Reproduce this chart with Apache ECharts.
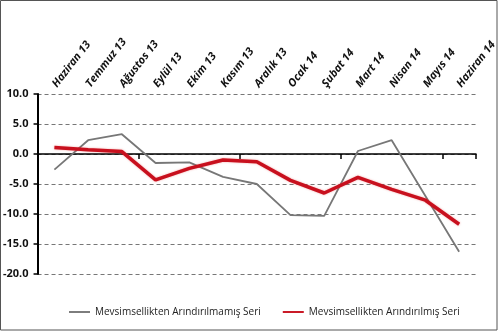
<!DOCTYPE html>
<html><head><meta charset="utf-8">
<script src="https://cdn.jsdelivr.net/npm/echarts@6/dist/echarts.min.js"></script>
<style>html,body{margin:0;padding:0;background:#fff}#c{width:500px;height:333px}</style>
</head><body><div id="c"></div>
<script>
const categories = ['Haziran 13','Temmuz 13','Ağustos 13','Eylül 13','Ekim 13','Kasım 13','Aralık 13','Ocak 14','Şubat 14','Mart 14','Nisan 14','Mayıs 14','Haziran 14'];
const unadjusted = [-2.6, 2.3, 3.3, -1.5, -1.4, -3.8, -5.0, -10.2, -10.3, 0.5, 2.3, -7.0, -16.3];
const adjusted = [1.1, 0.7, 0.4, -4.3, -2.4, -1.0, -1.3, -4.4, -6.5, -3.9, -5.9, -7.7, -11.7];
const seriesNames = ['Mevsimsellikten Arındırılmamış Seri','Mevsimsellikten Arındırılmış Seri'];
const yTicks = {min: -20, max: 10, step: 5};

const chart = echarts.init(document.getElementById('c'), null, {renderer: 'canvas'});
const font = 'Open Sans, DejaVu Sans, sans-serif';
chart.setOption({
  animation: false,
  grid: {left: 37, right: 24, top: 94, bottom: 59},
  graphic: [{type: 'rect', shape: {x: 0.5, y: 0.5, width: 496.5, height: 329.5}, style: {fill: 'none', stroke: '#555', lineWidth: 1}}],
  legend: {
    data: seriesNames, left: 64, top: 302, width: 430, itemWidth: 21, itemHeight: 10, itemGap: 22,
    icon: 'path://M0,4L22,4L22,6L0,6Z',
    textStyle: {fontFamily: font, fontSize: 10, color: '#222', fontWeight: 'normal'}
  },
  xAxis: [
    {type: 'category', data: categories, boundaryGap: true, position: 'bottom',
     axisLine: {onZero: true, lineStyle: {color: '#000', width: 1.5}},
     axisTick: {show: true, length: 5, lineStyle: {color: '#000', width: 1.5}},
     axisLabel: {show: false}, splitLine: {show: false}},
    {type: 'category', data: categories, boundaryGap: true, position: 'top',
     axisLine: {show: false, onZero: false}, axisTick: {show: false},
     axisLabel: {rotate: -52, margin: 8, fontFamily: font, fontSize: 11, fontStyle: 'italic', fontWeight: 'bold', color: '#111', interval: 0}}
  ],
  yAxis: {
    type: 'value', min: yTicks.min, max: yTicks.max, interval: yTicks.step,
    axisLine: {show: true, onZero: false, lineStyle: {color: '#000', width: 2}},
    axisTick: {show: true, length: 4, lineStyle: {color: '#000', width: 1.5}},
    axisLabel: {formatter: v => v.toFixed(1), margin: 9, fontFamily: font, fontSize: 11, fontWeight: 'bold', color: '#111'},
    splitLine: {show: true, lineStyle: {color: '#777', type: [4, 3], width: 1}}
  },
  series: [
    {name: seriesNames[0], type: 'line', data: unadjusted, symbol: 'none', lineStyle: {color: '#777', width: 1.8}, itemStyle: {color: '#777'}, z: 2},
    {name: seriesNames[1], type: 'line', data: adjusted, symbol: 'none', lineStyle: {color: '#c8101e', width: 3.5, shadowColor: 'rgba(230,60,60,0.5)', shadowBlur: 2}, itemStyle: {color: '#c8101e'}, z: 3}
  ]
});
</script></body></html>
